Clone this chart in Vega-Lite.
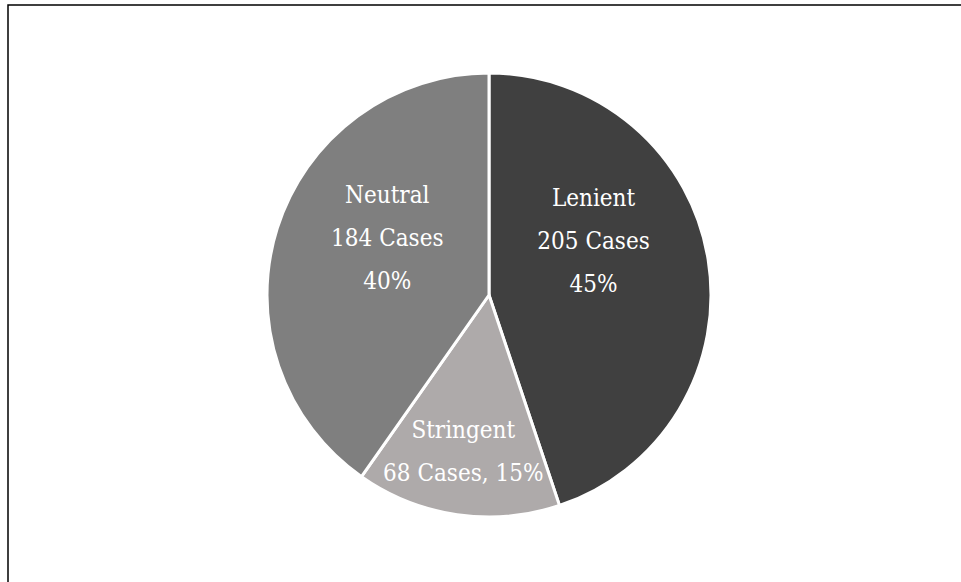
{
  "$schema": "https://vega.github.io/schema/vega-lite/v6.json",
  "width": 962,
  "height": 580,
  "autosize": {"type": "none"},
  "padding": {"left": 8, "top": 5, "right": 0, "bottom": 0},
  "background": "white",
  "view": {"stroke": "black", "strokeWidth": 1.5},
  "data": {
    "values": [
      {"category": "Lenient", "cases": 205, "rank": 1, "label": ["Lenient", "205 Cases", "45%"]},
      {"category": "Stringent", "cases": 68, "rank": 2, "label": ["Stringent", "68 Cases, 15%"]},
      {"category": "Neutral", "cases": 184, "rank": 3, "label": ["Neutral", "184 Cases", "40%"]}
    ]
  },
  "layer": [
    {
      "mark": {"type": "arc", "outerRadius": 222, "stroke": "white", "strokeWidth": 3},
      "encoding": {
        "theta": {"field": "cases", "type": "quantitative", "stack": true},
        "order": {"field": "rank", "type": "quantitative"},
        "color": {
          "field": "category",
          "type": "nominal",
          "scale": {"domain": ["Lenient", "Stringent", "Neutral"], "range": ["#404040", "#AEAAAA", "#7F7F7F"]},
          "legend": null
        }
      }
    },
    {
      "mark": {"type": "text", "radius": 112, "dx": -6, "dy": -78, "color": "white", "font": "'DejaVu Serif Condensed', 'Liberation Serif', serif", "fontSize": 24, "lineHeight": 43, "align": "center", "baseline": "middle"},
      "encoding": {
        "theta": {"field": "cases", "type": "quantitative", "stack": true},
        "order": {"field": "rank", "type": "quantitative"},
        "text": {"condition": {"test": "datum.category === 'Lenient'", "field": "label"}, "value": ""}
      }
    },
    {
      "mark": {"type": "text", "radius": 114, "dx": 7, "dy": -65, "color": "white", "font": "'DejaVu Serif Condensed', 'Liberation Serif', serif", "fontSize": 24, "lineHeight": 43, "align": "center", "baseline": "middle"},
      "encoding": {
        "theta": {"field": "cases", "type": "quantitative", "stack": true},
        "order": {"field": "rank", "type": "quantitative"},
        "text": {"condition": {"test": "datum.category === 'Neutral'", "field": "label"}, "value": ""}
      }
    },
    {
      "mark": {"type": "text", "radius": 158, "dx": -3, "dy": -20, "color": "white", "font": "'DejaVu Serif Condensed', 'Liberation Serif', serif", "fontSize": 24, "lineHeight": 43, "align": "center", "baseline": "middle"},
      "encoding": {
        "theta": {"field": "cases", "type": "quantitative", "stack": true},
        "order": {"field": "rank", "type": "quantitative"},
        "text": {"condition": {"test": "datum.category === 'Stringent'", "field": "label"}, "value": ""}
      }
    }
  ]
}
